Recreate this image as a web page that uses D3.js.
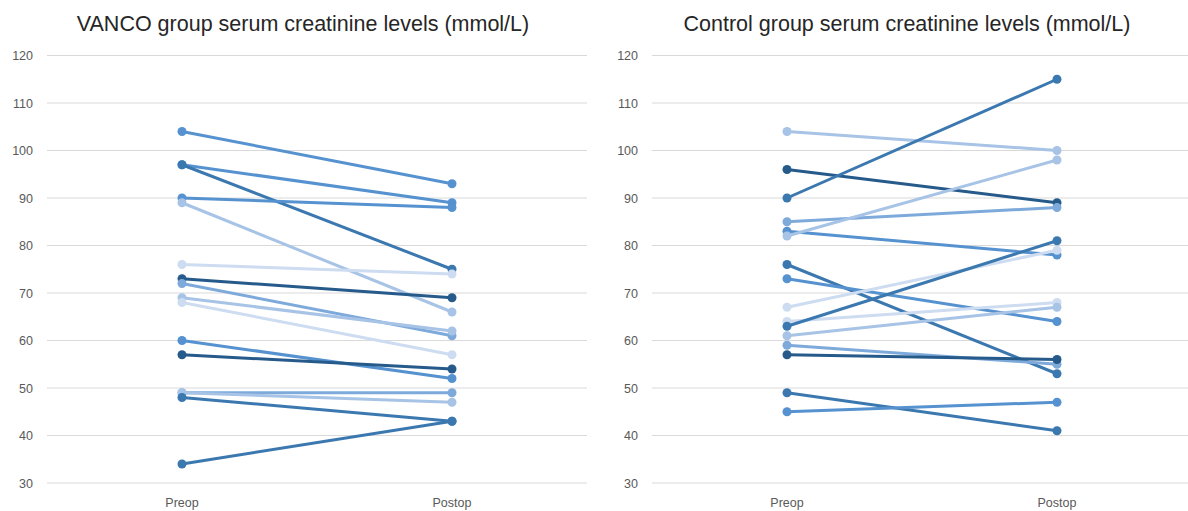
<!DOCTYPE html>
<html>
<head>
<meta charset="utf-8">
<script src="https://cdn.jsdelivr.net/npm/d3@7"></script>
<style>
  body { margin: 0; background: #fff; }
  text { font-family: "Liberation Sans", Arial, sans-serif; }
</style>
</head>
<body>
<script>
const width = 1188;
const height = 511;

// data
const categories = ["Preop", "Postop"];
const yTicks = [30, 40, 50, 60, 70, 80, 90, 100, 110, 120];

const vancoPre  = [104, 97, 97, 90, 89, 76, 73, 72, 69, 68, 60, 57, 49, 49, 48, 34];
const vancoPost = [ 93, 89, 75, 88, 66, 74, 69, 61, 62, 57, 52, 54, 49, 47, 43, 43];

const controlPre  = [104, 96,  90, 85, 83, 82, 76, 73, 67, 64, 63, 61, 59, 57, 49, 45];
const controlPost = [100, 89, 115, 88, 78, 98, 53, 64, 79, 68, 81, 67, 55, 56, 41, 47];

// shades of blue, darkest to lightest
const blues = ["#255a8a", "#3b78b0", "#5592cf", "#7eaadb", "#a7c3e6", "#cddcf0"];
const vancoShade   = [2, 2, 1, 2, 4, 5, 0, 3, 4, 5, 2, 0, 3, 4, 1, 1];
const controlShade = [4, 0, 1, 3, 2, 4, 1, 2, 5, 5, 1, 4, 3, 0, 1, 2];

const svg = d3.select("body")
    .append("svg")
    .attr("width", width)
    .attr("height", height);

const y = d3.scaleLinear()
    .domain([30, 120])
    .range([483, 55.5]);

function drawPanel(title, titleX, pre, post, shade, x0, x1, labelX) {
    const x = d3.scalePoint()
        .domain(categories)
        .range([x0, x1])
        .padding(0.5);

    const g = svg.append("g");

    g.append("text")
        .attr("x", titleX)
        .attr("y", 31)
        .attr("text-anchor", "middle")
        .attr("font-size", 21.5)
        .attr("fill", "#262626")
        .text(title);

    // gridlines
    g.selectAll(".grid")
        .data(yTicks)
        .enter()
        .append("line")
        .attr("x1", x0)
        .attr("x2", x1)
        .attr("y1", d => y(d))
        .attr("y2", d => y(d))
        .attr("stroke", "#d9d9d9")
        .attr("stroke-width", 1);

    g.selectAll(".ytick")
        .data(yTicks)
        .enter()
        .append("text")
        .attr("x", labelX)
        .attr("y", d => y(d) + 4.5)
        .attr("text-anchor", "end")
        .attr("font-size", 12.5)
        .attr("fill", "#595959")
        .text(d => d);

    g.selectAll(".xtick")
        .data(categories)
        .enter()
        .append("text")
        .attr("x", d => x(d))
        .attr("y", 507)
        .attr("text-anchor", "middle")
        .attr("font-size", 12.5)
        .attr("fill", "#595959")
        .text(d => d);

    const pairs = pre.map((v, i) => ({ pre: v, post: post[i], color: blues[shade[i]] }));

    const line = d3.line()
        .x(d => x(d.cat))
        .y(d => y(d.val));

    const series = g.selectAll(".series")
        .data(pairs)
        .enter()
        .append("g");

    series.append("path")
        .attr("d", d => line([{ cat: "Preop", val: d.pre }, { cat: "Postop", val: d.post }]))
        .attr("fill", "none")
        .attr("stroke", d => d.color)
        .attr("stroke-width", 3);

    series.selectAll("circle")
        .data(d => [{ cat: "Preop", val: d.pre, color: d.color }, { cat: "Postop", val: d.post, color: d.color }])
        .enter()
        .append("circle")
        .attr("cx", d => x(d.cat))
        .attr("cy", d => y(d.val))
        .attr("r", 4.5)
        .attr("fill", d => d.color);
}

drawPanel("VANCO group serum creatinine levels (mmol/L)", 303, vancoPre, vancoPost, vancoShade, 47, 587, 33);
drawPanel("Control group serum creatinine levels (mmol/L)", 907, controlPre, controlPost, controlShade, 652, 1192, 638);
</script>
</body>
</html>
